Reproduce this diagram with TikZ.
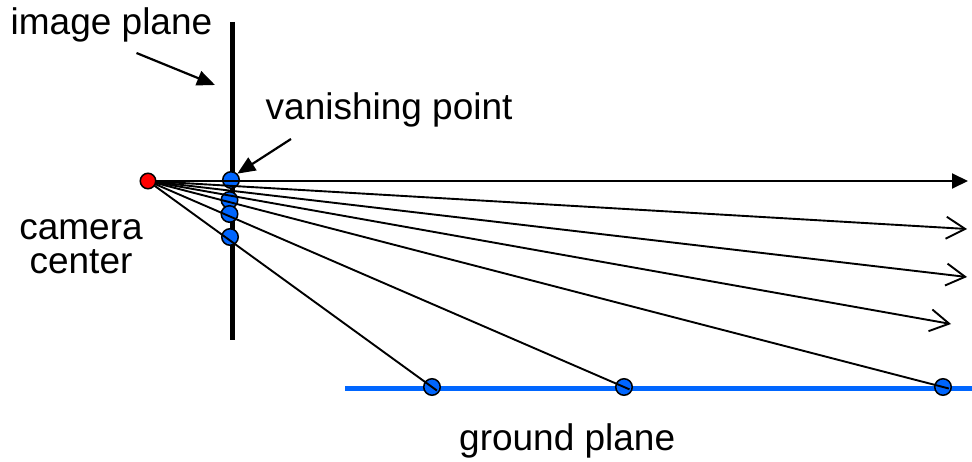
\documentclass[tikz,border=0pt]{standalone}
\usepackage{fontspec}
\setmainfont{Liberation Sans}
\usetikzlibrary{arrows.meta}
\definecolor{dotblue}{RGB}{0,102,255}
\definecolor{dotred}{RGB}{255,0,0}
\begin{document}
\begin{tikzpicture}[x=1pt,y=-1pt,
  bluedot/.style={circle,draw=black,line width=1.5pt,fill=dotblue,minimum size=16.5pt,inner sep=0pt},
  reddot/.style={circle,draw=black,line width=1.5pt,fill=dotred,minimum size=15.5pt,inner sep=0pt},
  ray/.style={line width=1.9pt,black},
  openhead/.style={ray,-{Straight Barb[length=19pt,width=22pt]}},
  lbl/.style={inner sep=0pt,font=\fontsize{37}{34}\selectfont},
  lblarrow/.style={line width=2.2pt,-{Triangle[length=18pt,width=15pt]}}]
\useasboundingbox (0,0) rectangle (972,462);
% planes
\coordinate (ipTop) at (232,22);
\coordinate (ipBot) at (232,340);
\draw[line width=5pt] (ipTop) -- (ipBot);
\coordinate (gpL) at (345,388.5);
\coordinate (gpR) at (972,388.5);
\draw[line width=5.5pt,dotblue] (gpL) -- (gpR);
% dots
\node[bluedot] (v1) at (231,180) {};
\node[bluedot] (v2) at (229.5,200) {};
\node[bluedot] (v3) at (229.5,214) {};
\node[bluedot] (v4) at (230,237) {};
\node[bluedot] (g1) at (432,387) {};
\node[bluedot] (g2) at (624,387) {};
\node[bluedot] (g3) at (943,387) {};
\coordinate (cam0) at (148,181);
% arrow ends
\coordinate (a0) at (968,181);
\coordinate (a1) at (967,229);
\coordinate (a2) at (967,277);
\coordinate (a3) at (951,324);
% rays
\draw[ray,-{Triangle[length=16pt,width=15pt]}] (cam0) -- (a0);
\draw[openhead] (cam0) -- (a1);
\draw[openhead] (cam0) -- (a2);
\draw[openhead] (cam0) -- (a3);
\draw[ray,shorten >=-6pt] (cam0) -- (g1.center);
\draw[ray,shorten >=-6pt] (cam0) -- (g2.center);
\draw[ray,shorten >=-6pt] (cam0) -- (g3.center);
\node[reddot] (cam) at (cam0) {};
% labels
\node[lbl,anchor=base west] (lip) at (10.5,35) {image plane};
\node[lbl,anchor=base west] (lvp) at (265.5,120) {vanishing point};
\node[lbl,align=center] (lcc) at (81,246.5) {camera\\center};
\node[lbl,anchor=base west] (lgp) at (459,450) {ground plane};
\coordinate (ipA) at (136.5,53);
\coordinate (ipB) at (215,85);
\draw[lblarrow] (ipA) -- (ipB);
\coordinate (vpA) at (291,139);
\draw[lblarrow] (vpA) -- (v1.north east);
\end{tikzpicture}
\end{document}
